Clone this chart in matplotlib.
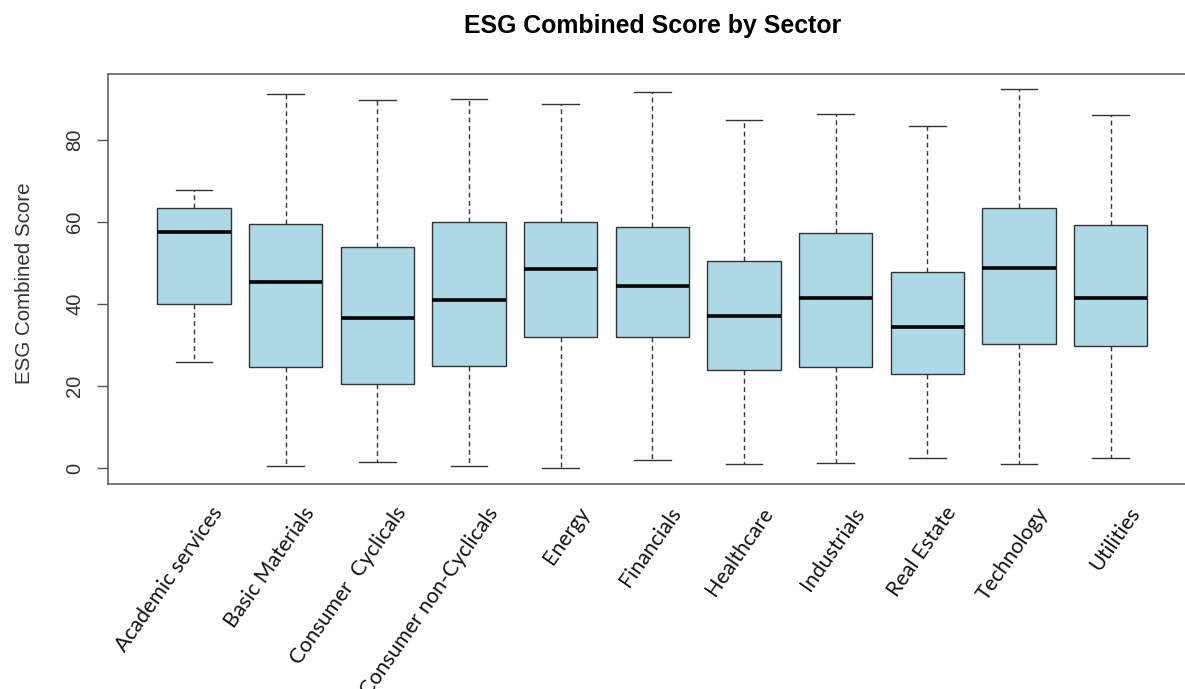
import numpy as np
import matplotlib
matplotlib.use('Agg')
import matplotlib.pyplot as plt
from matplotlib.transforms import ScaledTranslation

# Sector summary statistics for the ESG combined score
sectors = ['Academic services', 'Basic Materials', 'Consumer  Cyclicals',
           'Consumer non-Cyclicals', 'Energy', 'Financials', 'Healthcare',
           'Industrials', 'Real Estate', 'Technology', 'Utilities']
whisker_low = [25.8, 0.6, 1.5, 0.5, 0.0, 1.9, 0.9, 1.2, 2.5, 0.9, 2.5]
q1 = [40.0, 24.7, 20.5, 24.9, 31.9, 31.9, 23.9, 24.6, 23.0, 30.2, 29.7]
median = [57.6, 45.4, 36.5, 41.0, 48.5, 44.4, 37.2, 41.5, 34.3, 48.8, 41.5]
q3 = [63.3, 59.5, 53.8, 60.1, 60.1, 58.9, 50.4, 57.3, 47.9, 63.3, 59.3]
whisker_high = [67.8, 91.1, 89.8, 90.1, 88.9, 91.7, 85.0, 86.4, 83.5, 92.4, 86.0]

stats = []
for i in range(len(sectors)):
    stats.append({'med': median[i], 'q1': q1[i], 'q3': q3[i],
                  'whislo': whisker_low[i], 'whishi': whisker_high[i],
                  'fliers': [], 'label': sectors[i]})

fig = plt.figure(figsize=(11.85, 6.89), dpi=100)
ax = fig.add_axes([0.0911, 0.2975, 0.9190, 0.5951])

edge = '#333333'
positions = np.arange(1, len(sectors) + 1)
ax.bxp(stats, positions=positions, widths=0.8, patch_artist=True,
       showfliers=False,
       boxprops=dict(facecolor='#ADD8E6', edgecolor=edge, linewidth=1.0),
       medianprops=dict(color='black', linewidth=2.6, solid_capstyle='butt'),
       whiskerprops=dict(color=edge, linewidth=1.0, linestyle=(0, (3.5, 2.5))),
       capprops=dict(color=edge, linewidth=1.0),
       capwidths=0.4)

ax.set_xlim(0.06, 11.94)
ax.set_ylim(-3.9, 96.1)

for s in ['left', 'top', 'bottom', 'right']:
    ax.spines[s].set_color('#555555')
    ax.spines[s].set_linewidth(1.1)

ax.set_yticks([0, 20, 40, 60, 80])
ax.set_yticklabels(['0', '20', '40', '60', '80'], rotation=90, va='center',
                   fontsize=14.5, color='#333333', family='Liberation Sans')
ax.tick_params(axis='y', length=8, width=1.0, color='#555555', pad=9)

# rotated sector names, nudged right so they end just past each box centre
ax.set_xticks(positions)
ax.set_xticklabels(sectors, rotation=55, ha='right', va='top',
                   rotation_mode='anchor', fontsize=15.3, family='Lato',
                   color='#111111')
ax.tick_params(axis='x', length=0, pad=14)
shift = ScaledTranslation(12 / 72, 0, fig.dpi_scale_trans)
for lbl in ax.get_xticklabels():
    lbl.set_transform(lbl.get_transform() + shift)

ax.set_ylabel('ESG Combined Score', fontsize=14.8, color='#333333',
              family='Liberation Sans')
ax.yaxis.set_label_coords(-0.068, 0.49)

ax.set_title('ESG Combined Score by Sector', fontsize=17.9, fontweight='bold',
             family='Liberation Sans', y=1.1, pad=0)

fig.savefig('out.png', dpi=100)
